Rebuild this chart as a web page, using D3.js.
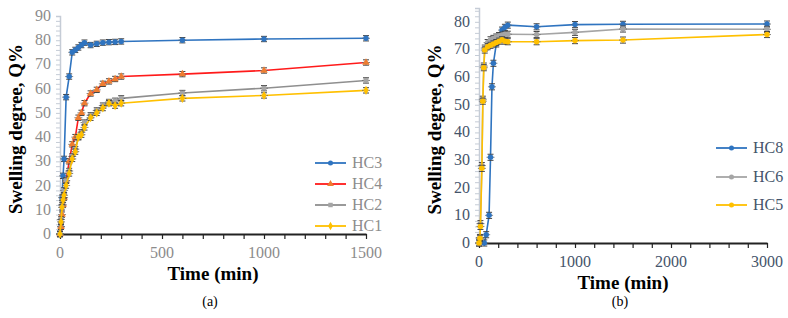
<!DOCTYPE html>
<html lang="en">
<head>
<meta charset="utf-8">
<title>Swelling degree</title>
<script src="https://cdn.jsdelivr.net/npm/d3@7"></script>
<style>
body { margin: 0; background: #fff; }
</style>
</head>
<body>
<svg width="788" height="318" font-family="'Liberation Serif', 'DejaVu Serif', serif"></svg>
<script>
// ---------- panel (a) data ----------
var timeA = [0, 5, 10, 15, 20, 30, 45, 60, 75, 90, 105, 120, 150, 180, 210, 240, 270, 300, 600, 1000, 1500];
var hc3 = [0, 3, 15, 24, 31, 56.5, 65, 75, 76, 77, 78, 79, 78, 78.5, 79, 79.2, 79.3, 79.5, 80, 80.5, 80.8];
var hc4 = [0, 3, 8, 12, 15, 22, 30, 37, 40, 48, 50, 54, 58, 59.5, 62, 63, 64, 65, 66, 67.5, 70.8];
var hc2 = [0, 6, 12, 15, 18, 22, 26, 32, 35, 40, 42, 46, 49, 51, 53, 54.5, 55, 56, 58.2, 60.2, 63.4];
var hc1 = [0, 5, 11, 14, 16, 20, 25, 31, 34, 40, 41, 44, 48, 50, 52, 54, 53, 54, 56, 57.2, 59.3];
var ticksA = [0, 500, 1000, 1500];

// ---------- panel (b) data ----------
var timeB = [0, 10, 15, 30, 40, 50, 60, 90, 120, 150, 180, 210, 240, 270, 300, 600, 1000, 1500, 3000];
var timeHC8 = [55, 75, 105, 120, 135, 150, 180, 210, 240, 270, 300, 600, 1000, 1500, 3000];
var hc8 = [0, 3, 10, 31, 56.5, 65, 72, 75, 77, 78, 78.8, 78.2, 79, 79.1, 79.2];
var hc6 = [0, 2, 7, 28, 52, 64, 70.5, 72.5, 73.5, 74, 74.5, 75, 75.2, 75.5, 75.5, 75.4, 76.2, 77.4, 77.3];
var hc5 = [0, 1.7, 6, 27, 51.3, 63.4, 69.8, 71, 71.5, 72, 72.5, 73, 73.5, 73, 72.8, 72.8, 73.2, 73.4, 75.4];
var ticksB = [0, 1000, 2000, 3000];

var svg = d3.select("svg");

function panel(opt) {
  var g = svg.append("g");
  var x = d3.scaleLinear().domain(opt.xDomain).range(opt.xRange);
  var y = d3.scaleLinear().domain(opt.yDomain).range(opt.yRange);

  // y axis: light line with minor ticks every 2 units
  var yAxis = d3.axisLeft(y).tickValues(d3.range(opt.yDomain[0], opt.yDomain[1] + 0.01, 2))
    .tickSize(4).tickFormat("");
  var ya = g.append("g").attr("transform", "translate(" + opt.xRange[0] + ",0)").call(yAxis);
  ya.select(".domain").attr("stroke", "#c5ccd6").attr("stroke-width", 1.5);
  ya.selectAll(".tick line").attr("stroke", "#c5ccd6");

  g.selectAll(".ylab").data(opt.yLabels).enter().append("text")
    .attr("x", opt.xRange[0] - 9).attr("y", function(d) { return y(d) + 5; })
    .attr("text-anchor", "end").attr("font-size", 16).attr("fill", opt.labColor)
    .text(function(d) { return d; });

  // x axis: black line, ticks down
  var xAxis = d3.axisBottom(x).tickValues(d3.range(opt.xDomain[0], opt.xDomain[1] + 1, opt.xMinor))
    .tickSize(5).tickSizeOuter(0).tickFormat("");
  var xa = g.append("g").attr("transform", "translate(0," + opt.yRange[0] + ")").call(xAxis);
  xa.select(".domain").attr("stroke", "#222").attr("stroke-width", 1.8);
  xa.selectAll(".tick line").attr("stroke", "#222").attr("stroke-width", 1.2);

  g.selectAll(".xlab").data(opt.xLabels).enter().append("text")
    .attr("x", function(d) { return x(d); }).attr("y", opt.yRange[0] + 24)
    .attr("text-anchor", "middle").attr("font-size", 16).attr("fill", opt.labColor)
    .text(function(d) { return d; });

  // titles
  g.append("text").attr("x", (opt.xRange[0] + opt.xRange[1]) / 2).attr("y", opt.yRange[0] + 46)
    .attr("text-anchor", "middle").attr("font-size", 19).attr("font-weight", "bold")
    .text("Time (min)");
  g.append("text").attr("transform", "translate(" + opt.yTitleX + "," + ((opt.yRange[0] + opt.yRange[1]) / 2 + 4) + ") rotate(-90)")
    .attr("text-anchor", "middle").attr("font-size", 19).attr("font-weight", "bold")
    .text("Swelling degree, Q%");
  g.append("text").attr("x", opt.capX).attr("y", 306).attr("text-anchor", "middle")
    .attr("font-size", 14).text(opt.caption);

  var line = d3.line().x(function(d) { return x(d.t); }).y(function(d) { return y(d.q); });

  opt.series.forEach(function(s) {
    var pts = s.t.map(function(t, i) { return { t: t, q: s.q[i] }; });
    g.append("path").datum(pts).attr("d", line).attr("fill", "none")
      .attr("stroke", s.color).attr("stroke-width", 1.6);
    var pg = g.append("g");
    pts.forEach(function(p) {
      var cx = x(p.t), cy = y(p.q), e = (opt.yRange[0] - y(s.err || 1.1)) ;
      pg.append("line").attr("x1", cx).attr("x2", cx).attr("y1", cy - e).attr("y2", cy + e)
        .attr("stroke", "#444").attr("stroke-width", 1);
      pg.append("line").attr("x1", cx - 3).attr("x2", cx + 3).attr("y1", cy - e).attr("y2", cy - e)
        .attr("stroke", "#444").attr("stroke-width", 1);
      pg.append("line").attr("x1", cx - 3).attr("x2", cx + 3).attr("y1", cy + e).attr("y2", cy + e)
        .attr("stroke", "#444").attr("stroke-width", 1);
      pg.append("line").attr("x1", cx - 4).attr("x2", cx + 4).attr("y1", cy).attr("y2", cy)
        .attr("stroke", "#666").attr("stroke-width", 0.8);
    });
    pg.selectAll("path.m").data(pts).enter().append("path")
      .attr("transform", function(d) { return "translate(" + x(d.t) + "," + y(d.q) + ")"; })
      .attr("d", d3.symbol().type(s.symbol).size(24))
      .attr("fill", s.marker);
  });

  // legend
  opt.series.forEach(function(s, i) {
    var ly = opt.legendY[i];
    g.append("line").attr("x1", opt.legendX).attr("x2", opt.legendX + 31)
      .attr("y1", ly).attr("y2", ly).attr("stroke", s.color).attr("stroke-width", 1.8);
    g.append("path").attr("transform", "translate(" + (opt.legendX + 15.5) + "," + ly + ")")
      .attr("d", d3.symbol().type(s.symbol).size(20)).attr("fill", s.marker);
    g.append("text").attr("x", opt.legendX + 37).attr("y", ly + 5)
      .attr("font-size", 16).attr("fill", opt.labColor).text(s.name);
  });
}

panel({
  xDomain: [0, 1500], xRange: [60, 366], xMinor: 100,
  yDomain: [0, 90], yRange: [234, 16],
  yLabels: d3.range(0, 91, 10), xLabels: ticksA,
  labColor: "#8c8c8c", yTitleX: 22, capX: 210, caption: "(a)",
  legendX: 315, legendY: [163, 184, 205, 226],
  series: [
    { name: "HC3", t: timeA, q: hc3, color: "#2f74c0", marker: "#2f74c0", symbol: d3.symbolCircle },
    { name: "HC4", t: timeA, q: hc4, color: "#ff1a1a", marker: "#ed7d31", symbol: d3.symbolTriangle },
    { name: "HC2", t: timeA, q: hc2, color: "#8f8f8f", marker: "#a5a5a5", symbol: d3.symbolSquare },
    { name: "HC1", t: timeA, q: hc1, color: "#ffc000", marker: "#ffc000", symbol: d3.symbolDiamond }
  ]
});

panel({
  xDomain: [0, 3000], xRange: [479, 767], xMinor: 200,
  yDomain: [0, 85], yRange: [243, 8],
  yLabels: d3.range(0, 81, 10), xLabels: ticksB,
  labColor: "#44546a", yTitleX: 441, capX: 620, caption: "(b)",
  legendX: 716, legendY: [148, 177, 205],
  series: [
    { name: "HC8", t: timeHC8, q: hc8, color: "#2f74c0", marker: "#2f74c0", symbol: d3.symbolCircle },
    { name: "HC6", t: timeB, q: hc6, color: "#a5a5a5", marker: "#a5a5a5", symbol: d3.symbolCircle },
    { name: "HC5", t: timeB, q: hc5, color: "#ffc000", marker: "#ffc000", symbol: d3.symbolCircle }
  ]
});
</script>
</body>
</html>
